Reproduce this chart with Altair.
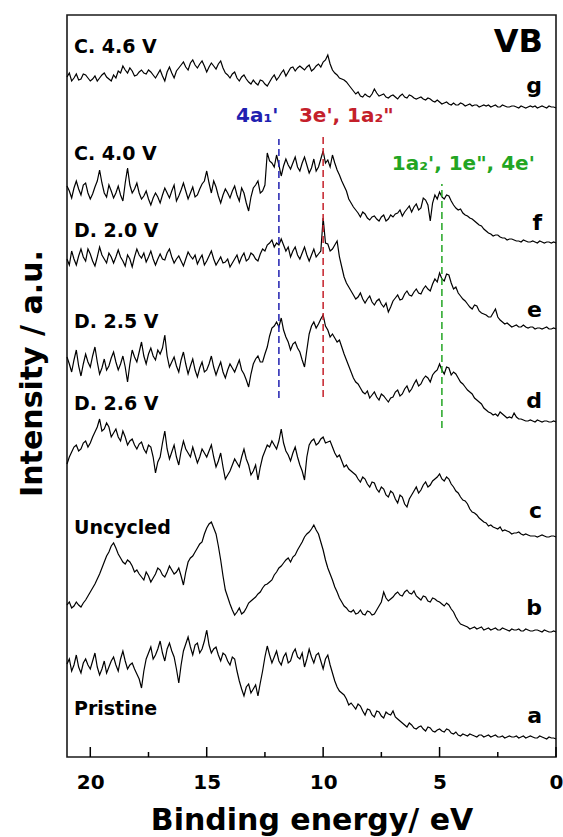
import altair as alt
import pandas as pd

# Binding-energy grid of the valence-band scans (eV), 0.1 eV step, from 21 eV down to 0 eV
energy = [round(21.0 - 0.1 * i, 1) for i in range(211)]

# Background-subtracted VB intensities (a.u.), listed from 21 eV down to 0 eV
pristine = [75, 80, 68, 74, 84, 72, 66, 76, 80, 74, 70, 78, 86, 72, 64, 70, 78, 66, 72, 78,
            82, 74, 68, 80, 88, 78, 70, 74, 76, 70, 65, 60, 51, 68, 80, 86, 92, 80, 84, 90,
            98, 86, 78, 90, 96, 88, 82, 70, 56, 74, 88, 95, 102, 92, 84, 94, 96, 86, 90, 98,
            109, 94, 86, 90, 92, 84, 78, 86, 84, 78, 74, 82, 80, 68, 58, 50, 43, 52, 55, 46,
            50, 54, 43, 56, 68, 82, 93, 84, 76, 82, 88, 78, 74, 82, 86, 76, 78, 86, 90, 82,
            80, 86, 72, 80, 90, 82, 76, 84, 86, 78, 70, 80, 84, 74, 66, 58, 52, 48, 46, 44,
            40, 34, 36, 33, 30, 35, 33, 28, 24, 30, 29, 24, 22, 28, 27, 23, 21, 27, 25, 24,
            28, 22, 20, 18, 16, 14, 12, 16, 14, 11, 10, 12, 13, 10, 8, 12, 11, 8, 7, 9,
            10, 8, 7, 10, 9, 6, 5, 7, 4, 3, 5, 4, 3, 5, 4, 3, 2, 4, 4, 2,
            3, 4, 2, 3, 4, 2, 2, 3, 1, 2, 3, 2, 2, 3, 1, 2, 3, 1, 2, 3,
            2, 1, 1, 3, 2, 1, 0, 2, 1, 1, 0]
uncycled = [27, 30, 24, 26, 30, 27, 25, 29, 32, 36, 40, 44, 48, 53, 58, 64, 70, 76, 80, 86,
            89, 84, 78, 74, 70, 68, 72, 70, 66, 60, 62, 58, 55, 52, 60, 56, 50, 54, 58, 64,
            62, 57, 55, 60, 66, 62, 58, 60, 64, 56, 47, 60, 70, 74, 76, 80, 84, 88, 90, 98,
            104, 108, 110, 104, 98, 86, 72, 56, 42, 35, 28, 22, 17, 20, 24, 18, 20, 24, 29, 31,
            33, 35, 38, 40, 44, 47, 48, 50, 52, 57, 60, 64, 66, 69, 72, 74, 70, 75, 77, 82,
            86, 90, 95, 98, 100, 103, 107, 102, 98, 90, 82, 72, 64, 58, 52, 45, 40, 34, 30, 26,
            24, 21, 20, 22, 18, 19, 22, 18, 17, 21, 20, 17, 18, 22, 26, 30, 40, 34, 31, 33,
            35, 38, 40, 37, 36, 40, 42, 39, 38, 41, 36, 34, 32, 36, 35, 31, 30, 34, 33, 31,
            30, 28, 26, 29, 27, 23, 20, 15, 11, 8, 7, 6, 5, 3, 4, 5, 3, 4, 5, 2,
            3, 4, 2, 3, 4, 2, 2, 4, 3, 2, 1, 3, 2, 2, 3, 1, 1, 3, 2, 1,
            1, 2, 2, 1, 0, 2, 1, 0, 0, 1, 0]
d_2_6 = [73, 80, 85, 90, 92, 86, 88, 94, 96, 90, 94, 100, 105, 110, 118, 106, 108, 114, 110, 100,
         104, 108, 100, 96, 106, 100, 92, 96, 98, 92, 88, 93, 95, 88, 84, 92, 90, 80, 64, 75,
         80, 94, 106, 88, 78, 85, 92, 80, 72, 86, 96, 88, 84, 80, 90, 82, 74, 80, 88, 84,
         80, 86, 92, 80, 70, 76, 84, 70, 58, 62, 66, 72, 78, 74, 70, 80, 88, 78, 72, 62,
         66, 72, 57, 70, 80, 86, 92, 90, 96, 92, 88, 96, 108, 94, 86, 82, 76, 84, 90, 80,
         72, 66, 57, 80, 92, 96, 98, 92, 94, 98, 100, 94, 95, 96, 90, 84, 80, 82, 76, 70,
         72, 68, 66, 64, 62, 58, 55, 60, 58, 53, 50, 55, 54, 48, 45, 50, 48, 42, 40, 46,
         44, 38, 34, 42, 40, 33, 30, 38, 42, 46, 50, 44, 47, 52, 55, 50, 52, 56, 58, 60,
         63, 58, 56, 60, 58, 53, 50, 46, 44, 40, 37, 36, 33, 28, 25, 24, 22, 19, 17, 15,
         14, 11, 12, 10, 9, 8, 10, 6, 7, 6, 5, 3, 4, 4, 5, 3, 2, 3, 2, 1,
         1, 1, 0, 1, 2, 1, 0, 0, 1, 1, 0]
d_2_5 = [65, 58, 50, 62, 72, 56, 46, 58, 68, 60, 55, 66, 75, 60, 48, 54, 63, 52, 56, 64,
         70, 60, 52, 58, 66, 55, 40, 58, 72, 65, 60, 70, 80, 66, 58, 68, 74, 66, 62, 72,
         68, 74, 87, 66, 55, 60, 65, 56, 50, 62, 70, 58, 48, 56, 63, 52, 45, 54, 60, 50,
         52, 58, 66, 55, 47, 54, 60, 50, 44, 52, 58, 54, 50, 56, 62, 52, 48, 42, 35, 48,
         58, 63, 66, 60, 60, 68, 75, 86, 94, 96, 100, 95, 104, 92, 85, 80, 72, 78, 80, 74,
         70, 62, 55, 72, 88, 96, 100, 94, 98, 103, 107, 96, 92, 85, 88, 84, 80, 82, 75, 68,
         62, 56, 50, 44, 40, 38, 34, 30, 28, 31, 24, 27, 30, 25, 22, 28, 26, 23, 20, 24,
         25, 30, 32, 26, 28, 33, 36, 30, 33, 38, 42, 36, 38, 43, 46, 44, 40, 47, 50, 52,
         58, 52, 48, 55, 54, 47, 50, 48, 44, 40, 38, 35, 32, 30, 28, 24, 22, 20, 18, 14,
         12, 10, 9, 7, 8, 6, 10, 8, 6, 4, 5, 4, 9, 5, 3, 3, 2, 1, 1, 2,
         1, 0, 2, 1, 0, 1, 1, 0, 0, 1, 0]
d_2_0 = [70, 64, 78, 70, 64, 73, 80, 72, 68, 80, 75, 68, 63, 72, 82, 74, 70, 66, 76, 72,
         66, 72, 79, 72, 68, 63, 74, 70, 62, 72, 80, 74, 71, 76, 67, 72, 78, 70, 64, 70,
         75, 70, 69, 76, 80, 72, 66, 70, 73, 68, 63, 70, 77, 73, 70, 74, 65, 70, 74, 64,
         68, 73, 78, 70, 64, 68, 72, 66, 67, 70, 62, 66, 70, 74, 66, 72, 76, 68, 70, 76,
         74, 70, 68, 75, 80, 78, 84, 86, 89, 82, 86, 84, 90, 84, 78, 82, 72, 78, 82, 74,
         70, 76, 82, 74, 68, 74, 80, 72, 75, 78, 111, 86, 85, 78, 80, 84, 88, 72, 62, 52,
         46, 42, 38, 34, 30, 32, 36, 30, 26, 30, 33, 27, 24, 28, 30, 25, 22, 26, 17, 22,
         28, 31, 34, 29, 30, 35, 38, 34, 33, 37, 40, 36, 35, 40, 43, 40, 38, 45, 50, 47,
         56, 50, 48, 55, 54, 46, 40, 42, 36, 33, 30, 28, 25, 22, 20, 24, 23, 18, 16, 15,
         14, 12, 12, 16, 20, 12, 9, 7, 5, 6, 4, 2, 3, 4, 2, 2, 4, 2, 1, 2,
         2, 0, 1, 1, 0, 1, 2, 0, 0, 1, 0]
c_4_0 = [57, 52, 45, 55, 62, 54, 48, 58, 60, 50, 44, 49, 56, 62, 73, 60, 50, 46, 58, 52,
         45, 50, 57, 48, 42, 60, 75, 58, 50, 54, 60, 50, 44, 47, 52, 44, 38, 45, 50, 46,
         40, 48, 55, 50, 45, 52, 58, 42, 47, 53, 60, 52, 44, 50, 56, 46, 48, 54, 59, 62,
         72, 60, 50, 62, 56, 47, 40, 48, 54, 50, 45, 52, 57, 48, 42, 55, 50, 40, 32, 46,
         55, 58, 62, 50, 52, 58, 90, 82, 80, 76, 88, 78, 67, 77, 84, 78, 74, 80, 86, 76,
         72, 80, 86, 78, 70, 75, 84, 72, 76, 84, 92, 80, 83, 76, 88, 80, 73, 68, 62, 57,
         52, 44, 40, 36, 33, 30, 26, 31, 29, 25, 23, 26, 27, 24, 22, 26, 28, 22, 24, 28,
         26, 29, 30, 33, 27, 31, 34, 37, 31, 36, 39, 33, 35, 45, 43, 38, 22, 40, 48, 44,
         51, 46, 44, 48, 47, 42, 38, 35, 33, 34, 30, 28, 27, 25, 24, 22, 20, 18, 17, 14,
         12, 10, 9, 7, 8, 8, 6, 5, 5, 3, 4, 4, 3, 2, 2, 1, 3, 2, 1, 1,
         2, 1, 0, 2, 1, 0, 1, 1, 0, 1, 0]
c_4_6 = [31, 35, 27, 30, 34, 28, 29, 34, 33, 30, 27, 29, 32, 27, 30, 33, 35, 31, 29, 27,
         33, 30, 37, 35, 42, 38, 35, 40, 37, 32, 33, 36, 38, 35, 34, 38, 36, 33, 30, 34,
         38, 32, 27, 36, 41, 35, 30, 37, 40, 43, 46, 41, 38, 45, 48, 43, 40, 44, 47, 42,
         36, 41, 45, 42, 39, 44, 47, 40, 35, 33, 30, 34, 36, 30, 27, 31, 33, 29, 26, 24,
         28, 25, 23, 28, 27, 24, 22, 26, 30, 33, 28, 31, 35, 38, 32, 36, 40, 41, 37, 40,
         42, 40, 38, 41, 43, 37, 39, 42, 44, 41, 46, 48, 53, 44, 38, 35, 33, 30, 29, 28,
         26, 23, 20, 17, 14, 16, 12, 11, 14, 12, 11, 14, 19, 15, 12, 13, 14, 11, 10, 12,
         13, 11, 9, 12, 14, 11, 10, 13, 12, 10, 9, 10, 11, 9, 8, 10, 9, 7, 6, 8,
         6, 4, 5, 6, 4, 3, 5, 3, 3, 5, 4, 2, 3, 4, 2, 3, 3, 1, 2, 3,
         2, 3, 1, 2, 3, 1, 1, 3, 2, 1, 1, 2, 2, 1, 0, 2, 1, 0, 1, 2,
         1, 2, 0, 1, 2, 1, 0, 2, 1, 1, 0]

# Curve letters, state labels, stacking offsets (a.u.) and label heights
curve_ids = ["a", "b", "c", "d", "e", "f", "g"]
state_names = ["Pristine", "Uncycled", "D. 2.6 V", "D. 2.5 V", "D. 2.0 V", "C. 4.0 V", "C. 4.6 V"]
stack_offset = [18, 125, 220, 335, 428, 514, 649]
state_label_y = [42, 223, 347, 429, 520, 597, 704]
letter_label_y = [34, 142, 239, 349, 440, 527, 664]
series = [pristine, uncycled, d_2_6, d_2_5, d_2_0, c_4_0, c_4_6]

# Orbital assignments: peak position (eV), marker span, label
orbital_energy = [11.9, 10.0, 4.9]
orbital_low = [359, 360, 329]
orbital_high = [618, 622, 573]
orbital_text = ["4a₁'", "3e', 1a₂\"", "1a₂', 1e\", 4e'"]
orbital_text_x = [13.74, 11.04, 7.05]
orbital_text_y = [635, 635, 587]
orbital_color = ["#2020b0", "#c4202a", "#22a522"]

major_ticks = [20, 15, 10, 5, 0]
minor_ticks = [17.5, 12.5, 7.5, 2.5]

FONT = "DejaVu Sans"

for cid, vals in zip(curve_ids, series):
    if len(vals) != len(energy):
        raise ValueError(f"curve {cid}: {len(vals)} points, expected {len(energy)}")

rows = []
for cid, vals, off in zip(curve_ids, series, stack_offset):
    for e, v in zip(energy, vals):
        rows.append({"curve": cid, "energy": e, "signal": v + off})
spectra = pd.DataFrame(rows)

xs = alt.Scale(domain=[21, 0], nice=False, zero=False)
ys = alt.Scale(domain=[0, 742], nice=False, zero=False)

x_axis = alt.Axis(values=major_ticks, tickSize=0, domain=False, grid=False,
                  labelFont=FONT, labelFontWeight="bold", labelFontSize=20,
                  labelColor="black", labelPadding=15, labelFlush=False,
                  title="Binding energy/ eV", titleFont=FONT, titleFontWeight="bold",
                  titleFontSize=30, titleColor="black", titlePadding=13)
y_axis = alt.Axis(labels=False, ticks=False, domain=False, grid=False,
                  title="Intensity / a.u.", titleFont=FONT, titleFontWeight="bold",
                  titleFontSize=30, titleColor="black", titleAngle=-90,
                  titleAlign="center", titleBaseline="middle", titleX=-35, titleY=358)

lines = alt.Chart(spectra).mark_line(color="black", strokeWidth=1.2).encode(
    x=alt.X("energy:Q", scale=xs, axis=x_axis),
    y=alt.Y("signal:Q", scale=ys, axis=y_axis),
    detail="curve:N",
)

major_df = pd.DataFrame({"energy": major_ticks})
minor_df = pd.DataFrame({"energy": minor_ticks})
major = alt.Chart(major_df).mark_rule(color="black", strokeWidth=1.5).encode(
    x=alt.X("energy:Q", scale=xs), y=alt.value(742), y2=alt.value(732))
minor = alt.Chart(minor_df).mark_rule(color="black", strokeWidth=1.5).encode(
    x=alt.X("energy:Q", scale=xs), y=alt.value(742), y2=alt.value(737))

orb = pd.DataFrame({"energy": orbital_energy, "low": orbital_low, "high": orbital_high,
                    "text": orbital_text, "tx": orbital_text_x, "ty": orbital_text_y,
                    "color": orbital_color})
guides = alt.Chart(orb).mark_rule(strokeWidth=1.5, strokeDash=[7, 4]).encode(
    x=alt.X("energy:Q", scale=xs), y=alt.Y("low:Q", scale=ys), y2="high:Q",
    color=alt.Color("color:N", scale=None))
orb_text = alt.Chart(orb).mark_text(font=FONT, fontWeight="bold", fontSize=20,
                                    align="left", baseline="alphabetic").encode(
    x=alt.X("tx:Q", scale=xs), y=alt.Y("ty:Q", scale=ys), text="text:N",
    color=alt.Color("color:N", scale=None))

labels = pd.DataFrame({"state": state_names, "sy": state_label_y,
                       "letter": curve_ids, "ly": letter_label_y})
labels["sx"] = 20.7
labels["lx"] = 0.6
state_text = alt.Chart(labels).mark_text(font=FONT, fontWeight="bold", fontSize=19,
                                         align="left", baseline="alphabetic",
                                         color="black").encode(
    x=alt.X("sx:Q", scale=xs), y=alt.Y("sy:Q", scale=ys), text="state:N")
letter_text = alt.Chart(labels).mark_text(font=FONT, fontWeight="bold", fontSize=22,
                                          align="right", baseline="alphabetic",
                                          color="black").encode(
    x=alt.X("lx:Q", scale=xs), y=alt.Y("ly:Q", scale=ys), text="letter:N")

vb = alt.Chart(pd.DataFrame({"t": ["VB"], "x": [0.56], "y": [705]})).mark_text(
    font=FONT, fontWeight="bold", fontSize=32, align="right", baseline="alphabetic",
    color="black").encode(x=alt.X("x:Q", scale=xs), y=alt.Y("y:Q", scale=ys), text="t:N")

chart = alt.layer(lines, major, minor, guides, orb_text, state_text, letter_text, vb).properties(
    width=489, height=742,
    autosize=alt.AutoSizeParams(type="none"),
    padding={"left": 67, "top": 15, "right": 7, "bottom": 80},
    background="white",
).configure_view(stroke="#1a1a1a", strokeWidth=1.6)

chart.save("out.html", embed_options={"renderer": "svg", "actions": False})
